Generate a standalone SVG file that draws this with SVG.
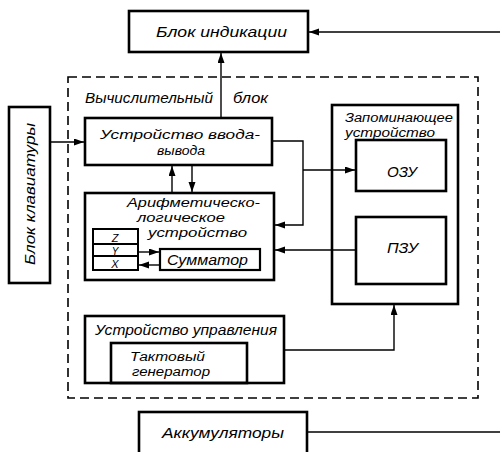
<svg xmlns="http://www.w3.org/2000/svg" width="500" height="452" viewBox="0 0 500 452">
<style>
.box{fill:none;stroke:#000;stroke-width:2.6}
.dash{fill:none;stroke:#000;stroke-width:1.6;stroke-dasharray:9 5}
.c{fill:none;stroke:#000;stroke-width:1.4}
text{font-family:"Liberation Sans","DejaVu Sans",sans-serif;font-style:italic;font-size:14px;fill:#000}
.m{font-size:12.5px}
.s{font-size:11px}
</style>
<defs>
<marker id="a" markerUnits="userSpaceOnUse" markerWidth="11" markerHeight="8" refX="10" refY="3.5" orient="auto">
<path d="M0,0 L10,3.5 L0,7 z" fill="#000"/>
</marker>
</defs>
<rect width="500" height="452" fill="#fff"/>
<g id="comp-block">
<rect class="dash" x="68" y="77" width="410" height="321"/>
<text x="85" y="103" textLength="128" lengthAdjust="spacingAndGlyphs">Вычислительный</text>
<text x="233" y="103" textLength="35" lengthAdjust="spacingAndGlyphs">блок</text>
</g>
<g id="indication">
<rect class="box" x="129" y="11" width="179" height="41"/>
<text x="156" y="37" textLength="131" lengthAdjust="spacingAndGlyphs">Блок индикации</text>
</g>
<g id="keyboard">
<rect class="box" x="9" y="107" width="41" height="176"/>
<text transform="translate(35,265) rotate(-90)" textLength="142" lengthAdjust="spacingAndGlyphs">Блок клавиатуры</text>
</g>
<g id="io">
<rect class="box" x="85" y="118" width="187" height="47"/>
<text class="m" x="100" y="139" textLength="160" lengthAdjust="spacingAndGlyphs">Устройство ввода-</text>
<text class="m" x="157" y="155" textLength="48" lengthAdjust="spacingAndGlyphs">вывода</text>
</g>
<g id="alu">
<rect class="box" x="85" y="193" width="189" height="87"/>
<text class="m" x="127" y="207" textLength="133" lengthAdjust="spacingAndGlyphs">Арифметическо-</text>
<text class="m" x="137" y="222" textLength="88" lengthAdjust="spacingAndGlyphs">логическое</text>
<text class="m" x="148" y="237" textLength="99" lengthAdjust="spacingAndGlyphs">устройство</text>
</g>
<g id="registers">
<rect class="box" x="93" y="229" width="45" height="41" style="stroke-width:2"/>
<line class="c" x1="93" y1="244" x2="138" y2="244" style="stroke-width:1.8"/>
<line class="c" x1="93" y1="256" x2="138" y2="256" style="stroke-width:1.8"/>
<text class="s" x="115" y="242" text-anchor="middle">Z</text>
<text class="s" x="115" y="255" text-anchor="middle" style="font-size:10px">Y</text>
<text class="s" x="115" y="268" text-anchor="middle">X</text>
</g>
<g id="adder">
<rect class="box" x="160" y="249" width="100" height="21" style="stroke-width:2.2"/>
<text x="167" y="265" textLength="81" lengthAdjust="spacingAndGlyphs">Сумматор</text>
</g>
<g id="memory">
<rect class="box" x="332" y="105" width="126" height="199"/>
<text class="m" x="345" y="122" textLength="108" lengthAdjust="spacingAndGlyphs">Запоминающее</text>
<text class="m" x="345" y="137" textLength="90" lengthAdjust="spacingAndGlyphs">устройство</text>
</g>
<g id="ram">
<rect class="box" x="356" y="140" width="90" height="51"/>
<text x="387" y="177" textLength="30" lengthAdjust="spacingAndGlyphs">ОЗУ</text>
</g>
<g id="rom">
<rect class="box" x="356" y="217" width="90" height="67"/>
<text x="387" y="253" textLength="31" lengthAdjust="spacingAndGlyphs">ПЗУ</text>
</g>
<g id="control">
<rect class="box" x="85" y="316" width="199" height="67"/>
<text x="95" y="335" textLength="182" lengthAdjust="spacingAndGlyphs">Устройство управления</text>
</g>
<g id="clock">
<rect class="box" x="111" y="343" width="136" height="40"/>
<text class="m" x="130" y="361" textLength="75" lengthAdjust="spacingAndGlyphs">Тактовый</text>
<text class="m" x="132" y="376" textLength="78" lengthAdjust="spacingAndGlyphs">генератор</text>
</g>
<g id="batteries">
<rect class="box" x="139" y="412" width="168" height="50"/>
<text x="162" y="438" textLength="122" lengthAdjust="spacingAndGlyphs">Аккумуляторы</text>
</g>
<g id="connectors">
<line class="c" x1="500" y1="32" x2="309" y2="32" marker-end="url(#a)"/>
<line class="c" x1="221" y1="117" x2="221" y2="53" marker-end="url(#a)"/>
<line class="c" x1="50" y1="142" x2="84" y2="142" marker-end="url(#a)"/>
<line class="c" x1="172" y1="193" x2="172" y2="166" marker-end="url(#a)"/>
<line class="c" x1="192" y1="165" x2="192" y2="192" marker-end="url(#a)"/>
<polyline class="c" points="272,141 303,141 303,225 275,225" marker-end="url(#a)"/>
<line class="c" x1="303" y1="170" x2="355" y2="170" marker-end="url(#a)"/>
<line class="c" x1="356" y1="250" x2="275" y2="250" marker-end="url(#a)"/>
<line class="c" x1="138" y1="252" x2="159" y2="252" marker-end="url(#a)"/>
<line class="c" x1="160" y1="265" x2="139" y2="265" marker-end="url(#a)"/>
<polyline class="c" points="284,350 394,350 394,305" marker-end="url(#a)"/>
<line class="c" x1="307" y1="432" x2="500" y2="432"/>
</g>
</svg>
